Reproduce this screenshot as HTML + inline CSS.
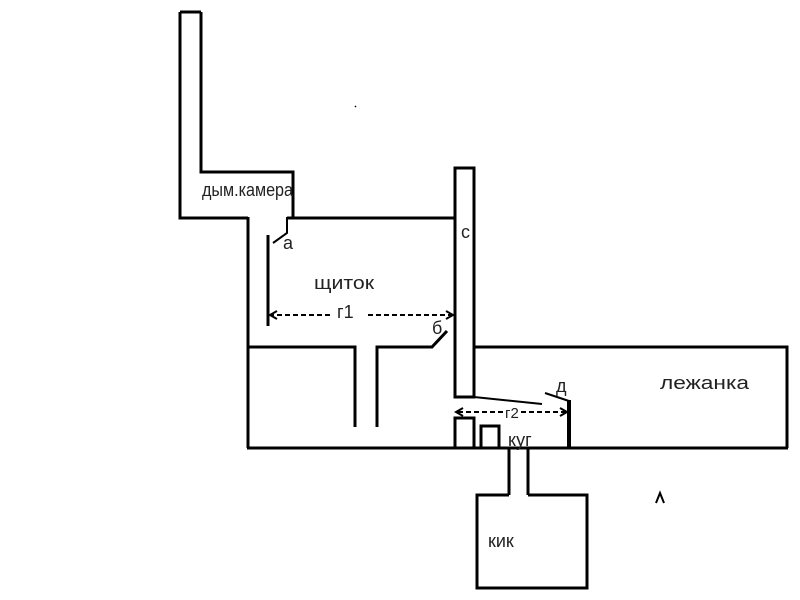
<!DOCTYPE html>
<html><head><meta charset="utf-8"><style>
html,body{margin:0;padding:0;background:#fff;width:800px;height:600px;overflow:hidden}
svg text{font-family:"Liberation Sans",sans-serif;fill:#222}
</style></head><body>
<svg width="800" height="600" xmlns="http://www.w3.org/2000/svg">
<defs>
<marker id="ah" markerWidth="10" markerHeight="10" refX="8" refY="5" orient="auto" markerUnits="userSpaceOnUse">
<path d="M1,1 L8,5 L1,9" fill="none" stroke="#000" stroke-width="2"/></marker>
</defs>
<g stroke="#000" stroke-width="3" fill="none">
<polyline points="201,12 201,172 293,172 293,218"/>
<polyline points="180,12 180,218 248,218"/>
<line x1="180" y1="12" x2="201" y2="12"/>
<polyline points="287,218 455,218"/>
<line x1="248" y1="217" x2="248" y2="448"/>
<polyline points="287,217 287,233 273,243" stroke-width="2"/>
<line x1="268" y1="235" x2="268" y2="326"/>
<polyline points="455,448 455,418 474,418 474,448"/>
<polyline points="455,346 455,168 474,168 474,397 455,397 455,346"/>
<polyline points="248,347 355,347 355,427"/>
<polyline points="377,427 377,347 432,347 447,331"/>
<line x1="247" y1="448" x2="788" y2="448"/>
<polyline points="474,347 787,347 787,448"/>
<line x1="474" y1="397" x2="542" y2="404" stroke-width="2"/>
<line x1="545" y1="393" x2="569" y2="401" stroke-width="2"/>
<line x1="569" y1="400" x2="569" y2="448" stroke-width="4"/>
<polyline points="481,448 481,426 499,426 499,448"/>
<line x1="509" y1="448" x2="509" y2="495"/>
<line x1="528" y1="448" x2="528" y2="495"/>
<polyline points="509,495 477,495 477,588 587,588 587,495 528,495"/>
<line x1="330" y1="315" x2="270" y2="315" stroke-width="2" stroke-dasharray="5,3" marker-end="url(#ah)"/>
<line x1="368" y1="315" x2="453" y2="315" stroke-width="2" stroke-dasharray="5,3" marker-end="url(#ah)"/>
<line x1="503" y1="412" x2="456" y2="412" stroke-width="2" stroke-dasharray="5,3" marker-end="url(#ah)"/>
<line x1="521" y1="412" x2="567" y2="412" stroke-width="2" stroke-dasharray="5,3" marker-end="url(#ah)"/>
<polyline points="656,503 660,493 664,503" stroke-width="2"/>
<line x1="355" y1="106" x2="356" y2="107" stroke-width="1.5"/>
</g>
<text x="202" y="196" font-size="18" textLength="91" lengthAdjust="spacingAndGlyphs">дым.камера</text>
<text x="461" y="238" font-size="18">с</text>
<text x="283" y="249" font-size="18">а</text>
<text x="314" y="289" font-size="18" textLength="60" lengthAdjust="spacingAndGlyphs">щиток</text>
<text x="337" y="318" font-size="18">г1</text>
<text x="432" y="334" font-size="18">б</text>
<text x="660" y="389" font-size="18" textLength="89" lengthAdjust="spacingAndGlyphs">лежанка</text>
<text x="556" y="392" font-size="18">д</text>
<text x="505" y="418" font-size="15">г2</text>
<text x="508" y="446" font-size="18">куг</text>
<text x="488" y="547" font-size="18">кик</text>
</svg>
</body></html>
